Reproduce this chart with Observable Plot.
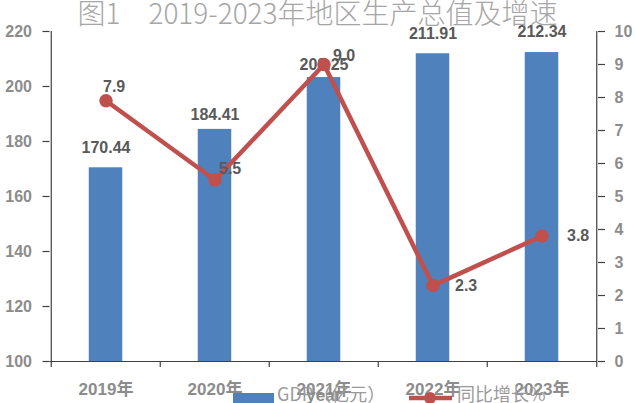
<!DOCTYPE html>
<html>
<head>
<meta charset="utf-8">
<script src="https://cdn.jsdelivr.net/npm/d3@7"></script>
<script src="https://cdn.jsdelivr.net/npm/@observablehq/plot@0.6"></script>
<style>
  html, body { margin: 0; padding: 0; background: #fff; }
  #wrap { position: relative; width: 635px; height: 403px; overflow: hidden; }
  #title {
    position: absolute; left: 0; top: -2px; width: 635px; text-align: center;
    font-family: "Noto Sans CJK SC", "Noto Sans", sans-serif; font-size: 28px; line-height: 28px;
    color: #a6a6a6; font-weight: 300; white-space: pre;
  }
  #legend { position: absolute; left: 0; top: 380px; }
</style>
</head>
<body>
<div id="wrap">
  <div id="chart"></div>
  <div id="title">图1　2019-2023年地区生产总值及增速</div>
  <svg id="legend" width="635" height="23"></svg>
</div>
<script>
// ---- data ----
const years = ["2019年", "2020年", "2021年", "2022年", "2023年"];
const gdp = [170.44, 184.41, 203.25, 211.91, 212.34];      // GDP（亿元）
const growth = [7.9, 5.5, 9.0, 2.3, 3.8];                  // 同比增长%
const leftTicks = [100, 120, 140, 160, 180, 200, 220];
const rightTicks = [0, 1, 2, 3, 4, 5, 6, 7, 8, 9, 10];
const seriesNames = ["GDP（亿元）", "同比增长%"];

// label placement (pixel offsets, style only)
const barLabelDy = [-20, -14, -13, -20, -21];
const lineLabelDx = [-3, 4, 9, 22, 25];
const lineLabelDy = [-14, -11, -9, 0, 0];

// ---- layout ----
const W = 635, H = 403;
const mL = 49.5, mR = 38, mT = 31, mB = 42;
const bw = (W - mL - mR) / years.length;
const tickLenPx = 6;

const blue = "#4F81BD", red = "#C0504D";
const axisColor = "#404040", tickText = "#8c8c8c", labelColor = "#595959";

// dual axis: right axis 0..10 maps onto left 100..220
const L0 = 100, L1 = 220, R0 = 0, R1 = 10;
const toLeft = v => L0 + (v - R0) * (L1 - L0) / (R1 - R0);
const fromLeft = v => R0 + (v - L0) * (R1 - R0) / (L1 - L0);
const tickLenUnits = tickLenPx * (L1 - L0) / (H - mT - mB);

const table = years.map((y, i) => ({year: y, gdp: gdp[i], growth: growth[i], gy: toLeft(growth[i]), i}));

const font = "'Liberation Sans', 'Noto Sans CJK SC', sans-serif";
const last = years[years.length - 1];

const chart = Plot.plot({
  width: W, height: H,
  marginLeft: mL, marginRight: mR, marginTop: mT, marginBottom: mB,
  x: {domain: years, padding: 0, axis: null},
  y: {domain: [L0, L1], axis: null},
  style: {fontFamily: font, background: "transparent", overflow: "visible"},
  marks: [
    Plot.barY(table, {x: "year", y1: L0, y2: "gdp", fill: blue, insetLeft: (bw - 34) / 2, insetRight: (bw - 34) / 2}),
    // axis lines
    Plot.ruleY([L0], {stroke: axisColor, strokeWidth: 1.2}),
    Plot.ruleX([years[0]], {dx: -bw / 2, stroke: axisColor, strokeWidth: 1.2}),
    Plot.ruleX([last], {dx: bw / 2, stroke: axisColor, strokeWidth: 1.2}),
    // category boundary ticks
    Plot.ruleX(years, {dx: -bw / 2, y1: L0, y2: L0 - tickLenUnits, stroke: axisColor, strokeWidth: 1.2}),
    Plot.ruleX([last], {dx: bw / 2, y1: L0, y2: L0 - tickLenUnits, stroke: axisColor, strokeWidth: 1.2}),
    Plot.axisY(leftTicks, {anchor: "left", tickSize: 7, tickPadding: 11, fontSize: 16, fontWeight: "bold",
      stroke: axisColor, fill: tickText, strokeWidth: 1.2}),
    Plot.axisY(rightTicks.map(toLeft), {anchor: "right", tickSize: 7, tickPadding: 10, fontSize: 16, fontWeight: "bold",
      tickFormat: v => String(Math.round(fromLeft(v))), stroke: axisColor, fill: tickText, strokeWidth: 1.2}),
    Plot.axisX(years, {anchor: "bottom", tickSize: 0, tickPadding: 21, fontSize: 17, fontWeight: "bold", fill: tickText}),
    // bar value labels
    ...table.map(d => Plot.text([d], {x: "year", y: "gdp", text: t => d3.format(".2f")(t.gdp), dy: barLabelDy[d.i],
      fill: labelColor, fontSize: 16, fontWeight: "bold"})),
    // growth line
    Plot.line(table, {x: "year", y: "gy", stroke: red, strokeWidth: 4.5}),
    Plot.dot(table, {x: "year", y: "gy", r: 6, fill: red, stroke: red}),
    ...table.map(d => Plot.text([d], {x: "year", y: "gy", text: t => d3.format(".1f")(t.growth),
      dx: lineLabelDx[d.i], dy: lineLabelDy[d.i], textAnchor: "start",
      fill: labelColor, fontSize: 16, fontWeight: "bold"}))
  ]
});
document.getElementById("chart").appendChild(chart);

// legend
const lg = d3.select("#legend");
const lf = "'Noto Sans CJK SC', 'Noto Sans', sans-serif";
lg.append("rect").attr("x", 233).attr("y", 13).attr("width", 41).attr("height", 12).attr("fill", blue);
lg.append("text").attr("x", 277).attr("y", 21).attr("font-family", lf).attr("font-size", 18)
  .attr("fill", "#9a9a9a").text(seriesNames[0]);
lg.append("line").attr("x1", 409).attr("x2", 452).attr("y1", 18).attr("y2", 18)
  .attr("stroke", red).attr("stroke-width", 4.5);
lg.append("circle").attr("cx", 430).attr("cy", 18).attr("r", 6).attr("fill", red);
lg.append("text").attr("x", 457).attr("y", 21).attr("font-family", lf).attr("font-size", 18)
  .attr("fill", "#9a9a9a").text(seriesNames[1]);
</script>
</body>
</html>
